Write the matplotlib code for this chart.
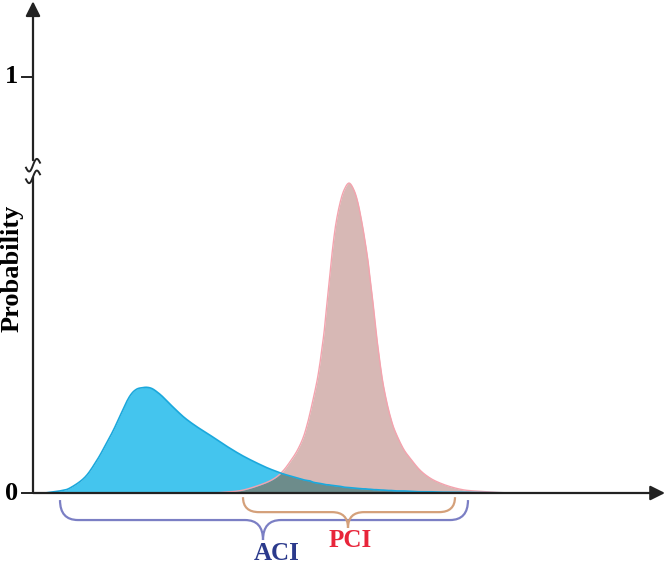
import matplotlib.pyplot as plt
import numpy as np
from matplotlib.path import Path
from matplotlib.patches import PathPatch

plt.rcParams['font.family'] = ['Liberation Serif', 'DejaVu Serif']

# 공통 x 위치 (임의 단위)
x = [45, 60, 70, 85, 97, 105, 113, 120, 127, 132, 137, 142, 147, 152, 157, 162, 167, 175, 185, 197,
     210, 225, 243, 263, 275, 283, 290, 297, 303, 307, 310, 313, 317, 320, 322, 324, 326, 328, 330, 333,
     336, 340, 344, 349, 354, 358, 362, 365, 368, 370, 373, 376, 380, 383, 387, 391, 395, 403, 410, 420,
     430, 440, 452, 465, 480, 500, 520]

# ACI 확률 분포
aci = [0, 0.005, 0.012, 0.038, 0.079, 0.113, 0.149, 0.185, 0.221, 0.240,
       0.250, 0.253, 0.254, 0.251, 0.243, 0.233, 0.221, 0.202, 0.180, 0.159,
       0.139, 0.115, 0.089, 0.065, 0.053, 0.046, 0.041, 0.036, 0.032, 0.030,
       0.029, 0.026, 0.024, 0.023, 0.022, 0.021, 0.020, 0.020, 0.019, 0.018,
       0.017, 0.016, 0.014, 0.013, 0.012, 0.011, 0.010, 0.010, 0.009, 0.009,
       0.008, 0.008, 0.007, 0.007, 0.006, 0.006, 0.005, 0.005, 0.004, 0.003,
       0.003, 0.002, 0.002, 0.0015, 0.001, 0.0005, 0]

# PCI 확률 분포
pci = [0, 0, 0, 0, 0, 0, 0, 0, 0, 0,
       0, 0, 0, 0, 0, 0, 0, 0, 0, 0,
       0, 0.002, 0.007, 0.022, 0.036, 0.053, 0.075, 0.101, 0.132, 0.163,
       0.192, 0.224, 0.269, 0.313, 0.349, 0.385, 0.433, 0.481, 0.529, 0.596,
       0.649, 0.697, 0.728, 0.745, 0.728, 0.697, 0.649, 0.606, 0.558, 0.517,
       0.457, 0.389, 0.313, 0.264, 0.216, 0.178, 0.149, 0.108, 0.084, 0.055,
       0.036, 0.024, 0.014, 0.007, 0.004, 0.001, 0]

# 중괄호 범위 (시작, 중앙, 끝)
aci_span = [60, 263, 468]
pci_span = [243, 348, 455]


def smooth(px, py, n=12):
    # Catmull-Rom 곡선으로 점 사이를 매끄럽게 그림
    P = np.column_stack([np.asarray(px, float), np.asarray(py, float)])
    P = np.vstack([P[0], P, P[-1]])
    out = []
    s = np.linspace(0, 1, n, endpoint=False)[:, None]
    for i in range(1, len(P) - 2):
        p0, p1, p2, p3 = P[i - 1], P[i], P[i + 1], P[i + 2]
        seg = 0.5 * ((2 * p1) + (-p0 + p2) * s + (2 * p0 - 5 * p1 + 4 * p2 - p3) * s ** 2
                     + (-p0 + 3 * p1 - 3 * p2 + p3) * s ** 3)
        out.append(seg)
    out.append(P[-2][None, :])
    out = np.vstack(out)
    return out[:, 0], np.clip(out[:, 1], 0, None)


xs, aci_s = smooth(x, aci)
_, pci_s = smooth(x, pci)

fig = plt.figure(figsize=(6.67, 5.68), dpi=100)
ax = fig.add_axes([33 / 667, 75 / 568, 634 / 667, 493 / 568])
ax.set_xlim(33, 667)
ax.set_ylim(0, 493 / 416)
ax.axis('off')

# 분포 채우기
ax.fill_between(xs, 0, pci_s, color='#D7B8B5', lw=0)
ax.fill_between(xs, 0, aci_s, color='#44C5EE', lw=0)
ax.fill_between(xs, 0, np.minimum(aci_s, pci_s), color='#6D8C8B', lw=0)
ax.plot(xs, pci_s, color='#F4A3AE', lw=1.0)
ax.plot(xs, aci_s, color='#1BA8DC', lw=1.2)

# 축 (화살표)
ax.annotate('', xy=(665, 0), xytext=(33, 0), annotation_clip=False,
            arrowprops=dict(arrowstyle='-|>', mutation_scale=22, lw=1.6, color='#222222',
                            shrinkA=0, shrinkB=0))
brk_lo, brk_hi = 0.76, 0.80
ax.plot([33, 33], [0, brk_lo], color='#222222', lw=1.6, clip_on=False, solid_capstyle='butt')
ax.annotate('', xy=(33, 1.182), xytext=(33, brk_hi), annotation_clip=False,
            arrowprops=dict(arrowstyle='-|>', mutation_scale=22, lw=1.6, color='#222222',
                            shrinkA=0, shrinkB=0))
# 축 끊김 표시
t = np.linspace(-1, 1, 40)
for off in [0.0, 0.028]:
    ax.plot(33 + 7 * t, brk_lo + off + 0.006 * t + 0.012 * np.sin(np.pi * t),
            color='#222222', lw=1.4, clip_on=False)

# 눈금
for val, lab in [(0, '0'), (1, '1')]:
    ax.plot([22, 33], [val, val], color='#222222', lw=1.4, clip_on=False)
    ax.text(18, val, lab, ha='right', va='center', fontsize=19, fontweight='bold')

ax.text(12, 0.54, 'Probability', rotation=90, ha='center', va='center',
        fontsize=19, fontweight='bold', clip_on=False)


def brace(span, ytop, ybar, ytip, r, color):
    x0, xm, x1 = span
    verts = [(x0, ytop), (x0, ybar), (x0 + r, ybar), (xm - r, ybar), (xm, ybar), (xm, ytip),
             (xm, ybar), (xm + r, ybar), (x1 - r, ybar), (x1, ybar), (x1, ytop)]
    codes = [Path.MOVETO, Path.CURVE3, Path.CURVE3, Path.LINETO, Path.CURVE3, Path.CURVE3,
             Path.CURVE3, Path.CURVE3, Path.LINETO, Path.CURVE3, Path.CURVE3]
    ax.add_patch(PathPatch(Path(verts, codes), fill=False, edgecolor=color, lw=1.6, clip_on=False))


brace(aci_span, -0.017, -0.065, -0.113, 18, '#7B7FC4')
brace(pci_span, -0.010, -0.046, -0.084, 16, '#D4A07A')

ax.text(277, -0.145, 'ACI', ha='center', va='center', fontsize=18, fontweight='bold',
        color='#2B3A8C', clip_on=False)
ax.text(350, -0.113, 'PCI', ha='center', va='center', fontsize=18, fontweight='bold',
        color='#E8253A', clip_on=False)

plt.savefig('out.png', dpi=100)
